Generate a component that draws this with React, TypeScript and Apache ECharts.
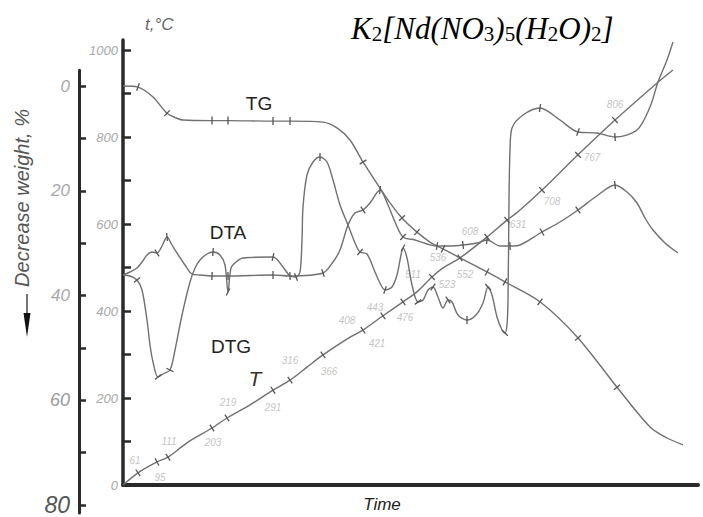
import React, { useEffect, useRef } from 'react';
import * as echarts from 'echarts';

// [time, value, tickMark]
const tempCurve: number[][] = [
  [0, 0], [3, 28, 1], [6.8, 53, 1], [9, 64, 1], [12.8, 97], [17.8, 131, 1], [20.8, 154, 1],
  [25.4, 184], [30, 218, 1], [33.4, 241, 1], [36.8, 271], [40, 299, 1], [45.4, 340], [48, 356, 1],
  [52, 389, 1], [56, 421, 1], [58.8, 444], [61.8, 478, 1], [64, 499], [67.4, 522, 1], [72.8, 570, 1],
  [76.8, 609, 1], [79, 628], [83.8, 678, 1], [91, 759, 1], [98.4, 839, 1], [107, 926], [110, 954],
];

const tgCurve: number[][] = [
  [0, 0], [3, 0.2, 1], [6, 2.1], [8.8, 5.2, 1], [10.4, 6.0], [12, 6.5], [17.8, 6.6, 1], [21, 6.6, 1],
  [30, 6.7, 1], [33.4, 6.7, 1], [40, 6.9], [42.8, 8.0], [45.4, 10.3], [48, 14.5, 1], [51.4, 19.5],
  [53.4, 22.3], [55.8, 25.2, 1], [58.8, 27.9, 1], [61.4, 29.8], [64, 31.1, 1], [67.4, 32.8],
  [72.8, 35.5, 1], [76.4, 37.4, 1], [83.4, 41.2, 1], [91, 48.1, 1], [98.8, 57.5, 1], [105.4, 65.1],
  [108.8, 67.2], [112, 68.5],
];

const dtaCurve: number[][] = [
  [0, 0], [1.4, -1], [2.8, -5, 1], [3.8, -15], [4.8, -45], [5.4, -70], [6, -87], [7, -102, 1], [8, -99],
  [9.4, -95, 1], [10.4, -75], [11.8, -40], [13.4, -7], [14.4, 7], [15.4, 15], [16.8, 21], [18, 23, 1],
  [19.4, 20], [20.4, 10], [21, -17, 1], [21.6, 7], [22.6, 13], [24, 17], [30, 18, 1], [32, 8], [33.4, -1],
  [34.6, -2, 1], [35.4, 3], [35.8, 35], [36, 68], [36.8, 100], [38, 113], [39.4, 118, 1], [40.8, 113],
  [42, 95], [43.4, 70], [45, 50], [46.4, 32], [47.4, 23, 1], [48.8, 21], [50.4, 3], [51.4, -8],
  [52.4, -15, 1], [53.8, -12], [54.8, 0], [55.6, 20], [56, 27, 1], [56.8, 17], [57.8, -10], [59, -27, 1],
  [60, -25], [61, -15], [62, -12, 1], [63, -22], [64, -33], [65, -25, 1], [65.8, -27], [67, -40],
  [68.8, -45, 1], [70.6, -40], [72, -28], [73, -12, 1], [73.8, -20], [74.8, -42], [75.8, -55],
  [76.4, -58, 1], [76.8, -50], [77, -25], [77.2, 75], [77.4, 125], [77.8, 147], [80, 160], [83.4, 167, 1],
  [87.4, 155], [91, 143, 1], [94.8, 142], [98.4, 138, 1], [102.8, 145], [105.4, 168], [107, 193],
  [108.8, 215], [110, 233],
];

const dtgCurve: number[][] = [
  [0, 0], [1.4, 3], [2.8, 7], [3.8, 13], [4.8, 20], [5.8, 23], [6.8, 22, 1], [7.8, 29], [8.8, 38, 1],
  [9.8, 30], [10.8, 22], [12.4, 10], [13.8, 1], [15.4, 0], [17.8, -1, 1], [21, -1, 1], [30, 0, 1],
  [33.4, -1, 1], [40, 2, 1], [42, 13], [43.4, 25], [45, 50], [46.4, 62], [48, 65, 1], [49.4, 72],
  [51.4, 85, 1], [53, 70], [54.4, 53], [56, 38, 1], [58.4, 35], [62.8, 29, 1], [65.4, 29], [68, 30, 1],
  [70.8, 32], [72.8, 35, 1], [75.4, 29], [77.4, 29, 1], [79.4, 30], [83.8, 43, 1], [87.4, 53], [91, 65, 1],
  [95, 80], [98.4, 90, 1], [100.8, 83], [102.8, 72], [104.4, 57], [106, 45], [108.4, 32], [111, 22],
];

// temperature readings written along the curves: [time, t °C position, text]
const tempLabels: [number, number, string][] = [
  [2.4, 57, '61'], [7.4, 18, '95'], [9.2, 99, '111'], [18, 97, '203'], [21, 189, '219'], [30, 179, '291'],
  [33.4, 287, '316'], [41.2, 260, '366'], [44.8, 379, '408'], [50.8, 326, '421'], [50.4, 409, '443'],
  [56.4, 384, '476'], [58, 483, '511'], [64.8, 460, '523'], [63, 524, '536'], [68.4, 483, '552'],
  [69.4, 582, '608'], [79, 598, '631'], [85.8, 651, '708'], [93.8, 752, '767'], [98.4, 874, '806'],
];

const tempTicks = [0, 100, 200, 300, 400, 500, 600, 700, 800, 900, 1000];
const tempTickLabels = [0, 200, 400, 600, 800, 1000];
const weightTicks = [0, 10, 20, 30, 40, 50, 60, 70, 80];
const weightTickLabels = [0, 20, 40, 60, 80];

const LINE = '#707070';

export default function App() {
  const ref = useRef<HTMLDivElement>(null);
  useEffect(() => {
    const chart = echarts.init(ref.current!, null, { renderer: 'svg' });
    const specs = [
      { id: 'T', pts: tempCurve, xi: 0, yi: 0 },
      { id: 'TG', pts: tgCurve, xi: 1, yi: 2 },
      { id: 'DTA', pts: dtaCurve, xi: 0, yi: 1 },
      { id: 'DTG', pts: dtgCurve, xi: 0, yi: 1 },
    ];
    const makeData = (pts: number[][], px?: number[][]) =>
      pts.map((p, i) => {
        if (!p[2]) return { value: [p[0], p[1]], symbol: 'none' };
        let rot = 0;
        if (px) {
          const a = px[Math.max(0, i - 1)];
          const b = px[Math.min(px.length - 1, i + 1)];
          rot = (Math.atan2(-(b[1] - a[1]), b[0] - a[0]) * 180) / Math.PI;
        }
        return { value: [p[0], p[1]], symbol: 'rect', symbolSize: [1.3, 8], symbolRotate: rot };
      });

    const serif = 'Liberation Serif';
    chart.setOption({
      animation: false,
      backgroundColor: '#ffffff',
      title: {
        text: '{i|K}{s|2}{i|[Nd(NO}{s|3}{i|)}{s|5}{i|(H}{s|2}{i|O)}{s|2}{i|]}',
        left: 351,
        top: 13,
        padding: 0,
        textStyle: {
          fontWeight: 'normal',
          rich: {
            i: { fontFamily: serif, fontStyle: 'italic', fontWeight: 'normal', fontSize: 31, lineHeight: 31, verticalAlign: 'bottom', color: '#000' },
            s: { fontFamily: serif, fontWeight: 'normal', fontSize: 21, lineHeight: 10, verticalAlign: 'bottom', color: '#000' },
          },
        },
      },
      grid: [
        { left: 123, right: 5, top: 40, bottom: 32 },
        { left: 123, right: 5, top: 70.3, bottom: 4.1 },
      ],
      xAxis: [
        {
          type: 'value', gridIndex: 0, min: 0, max: 115,
          axisLine: { show: true, onZero: false, lineStyle: { color: '#2a2a2a', width: 4 } },
          axisTick: { show: false }, axisLabel: { show: false }, splitLine: { show: false },
        },
        { type: 'value', gridIndex: 1, min: 0, max: 115, show: false },
      ],
      yAxis: [
        {
          type: 'value', gridIndex: 0, min: 0, max: 1023, position: 'left',
          axisLine: { show: true, onZero: false, lineStyle: { color: '#2a2a2a', width: 3.5 } },
          axisTick: { show: true, inside: true, length: 8, customValues: tempTicks, lineStyle: { color: '#2a2a2a', width: 2.5 } },
          axisLabel: {
            show: true, customValues: tempTickLabels, margin: 5, color: '#a8a8a8',
            formatter: (v: number) => String(v),
            fontStyle: 'italic', fontSize: 13, fontFamily: 'Liberation Sans',
          },
          splitLine: { show: false },
        },
        { type: 'value', gridIndex: 0, min: -210, max: 235, show: false },
        {
          type: 'value', gridIndex: 1, min: -3, max: 81.5, inverse: true, position: 'left', offset: 44,
          axisLine: { show: true, onZero: false, lineStyle: { color: '#2a2a2a', width: 3 } },
          axisTick: { show: true, inside: true, length: 7, customValues: weightTicks, lineStyle: { color: '#2a2a2a', width: 2.5 } },
          axisLabel: {
            show: true, customValues: weightTickLabels, margin: 9,
            formatter: (v: number) => (v === 80 ? '{b|80}' : v === 60 ? '{m|60}' : '{n|' + v + '}'),
            rich: {
              n: { color: '#a8a8a8', fontStyle: 'italic', fontSize: 17, fontFamily: 'Liberation Sans' },
              m: { color: '#9a9a9a', fontStyle: 'italic', fontSize: 18, fontFamily: 'Liberation Sans' },
              b: { color: '#555', fontStyle: 'italic', fontSize: 23, fontFamily: 'Liberation Sans' },
            },
          },
          splitLine: { show: false },
        },
      ],
      graphic: [
        { type: 'text', x: 145, y: 16, style: { text: 't,°C', fontSize: 17, fontStyle: 'italic', fontFamily: 'Liberation Sans', fill: '#666' } },
        {
          type: 'text', x: 22, y: 198, rotation: Math.PI / 2,
          style: { text: 'Decrease weight, %', fontSize: 20, fontStyle: 'italic', fontFamily: 'Liberation Sans', fill: '#555', align: 'center', verticalAlign: 'middle' },
        },
        { type: 'line', shape: { x1: 27, y1: 294, x2: 27, y2: 316 }, style: { stroke: '#444', lineWidth: 1.5 } },
        { type: 'polygon', shape: { points: [[23.5, 313], [30.5, 313], [27, 337]] }, style: { fill: '#111' } },
        { type: 'text', x: 259, y: 103, style: { text: 'TG', fontSize: 19, fontFamily: 'Liberation Sans', fill: '#222', align: 'center', verticalAlign: 'middle' } },
        { type: 'text', x: 228, y: 232, style: { text: 'DTA', fontSize: 19, fontFamily: 'Liberation Sans', fill: '#222', align: 'center', verticalAlign: 'middle' } },
        { type: 'text', x: 231, y: 346, style: { text: 'DTG', fontSize: 19, fontFamily: 'Liberation Sans', fill: '#222', align: 'center', verticalAlign: 'middle' } },
        { type: 'text', x: 255, y: 378, style: { text: 'T', fontSize: 21, fontStyle: 'italic', fontFamily: 'Liberation Sans', fill: '#333', align: 'center', verticalAlign: 'middle' } },
        { type: 'text', x: 382, y: 504, style: { text: 'Time', fontSize: 17, fontStyle: 'italic', fontFamily: 'Liberation Sans', fill: '#222', align: 'center', verticalAlign: 'middle' } },
      ],
      series: [
        ...specs.map((s) => ({
          id: s.id, name: s.id, type: 'line', xAxisIndex: s.xi, yAxisIndex: s.yi,
          data: makeData(s.pts), smooth: 0.3, clip: false,
          lineStyle: { color: LINE, width: 1.4 }, itemStyle: { color: '#555' },
        })),
        {
          id: 'labels', type: 'scatter', xAxisIndex: 0, yAxisIndex: 0, symbolSize: 1,
          itemStyle: { color: 'transparent' },
          data: tempLabels.map(([x, y, s]) => ({ value: [x, y], name: s })),
          label: {
            show: true, position: 'inside', formatter: (p: any) => p.name,
            color: '#b4b4b4', fontSize: 10, fontStyle: 'italic', fontFamily: 'Liberation Sans',
          },
        },
      ],
    });

    const upd = specs.map((s, si) => {
      const px = s.pts.map((p) => chart.convertToPixel({ seriesIndex: si }, [p[0], p[1]]) as number[]);
      return { id: s.id, data: makeData(s.pts, px) };
    });
    chart.setOption({ series: upd });

    return () => chart.dispose();
  }, []);
  return <div ref={ref} style={{ position: 'fixed', left: 0, top: 0, width: 703, height: 517 }} />;
}
